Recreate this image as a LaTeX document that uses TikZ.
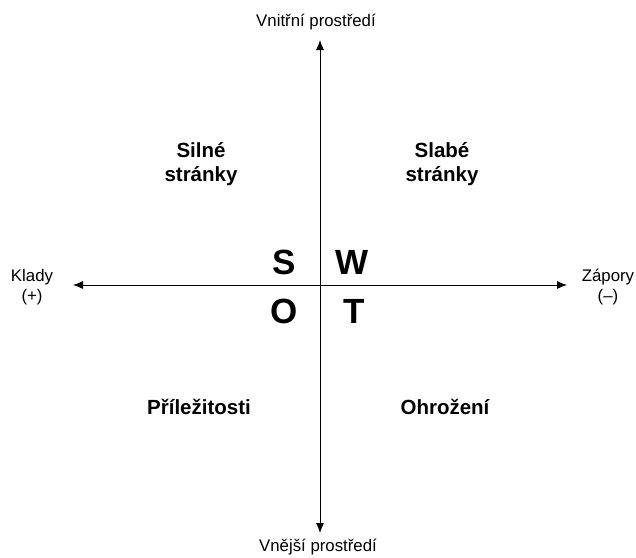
\documentclass[tikz,border=0pt]{standalone}
\usepackage{fontspec}
\setmainfont{Liberation Sans}
\usetikzlibrary{arrows.meta}

\tikzset{
  axis/.style={line width=0.9pt,{Latex[length=10pt,width=8pt]}-{Latex[length=10pt,width=8pt]}},
  axislabel/.style={font=\fontsize{16.8}{20}\selectfont,align=center,inner sep=0pt},
  quadlabel/.style={font=\fontsize{20.5}{24}\selectfont\bfseries,align=center,inner sep=0pt},
  swotletter/.style={font=\fontsize{35}{35}\selectfont\bfseries,inner sep=0pt}
}

\begin{document}
\begin{tikzpicture}[x=1pt,y=-1pt]
\useasboundingbox (0,0) rectangle (636,557);
% axes
\coordinate (top) at (320,40);
\coordinate (bottom) at (320,533);
\coordinate (left) at (73,285);
\coordinate (right) at (567,285);
\draw[axis] (bottom) -- (top);
\draw[axis] (left) -- (right);
% axis labels
\node[axislabel,anchor=base] (inner) at (316,26) {Vnitřní prostředí};
\node[axislabel,anchor=base] (outer) at (318,551) {Vnější prostředí};
\node[axislabel] (pros) at (32,287) {Klady\\(+)};
\node[axislabel] (cons) at (608,287) {Zápory\\(--)};
% SWOT
\node[swotletter] (s) at (284,262) {S};
\node[swotletter] (w) at (352,262) {W};
\node[swotletter] (o) at (284,311) {O};
\node[swotletter] (t) at (354,311) {T};
% quadrants
\node[quadlabel] (strengths) at (201,164) {Silné\\stránky};
\node[quadlabel] (weaknesses) at (442,164) {Slabé\\stránky};
\node[quadlabel] (opportunities) at (199,407) {Příležitosti};
\node[quadlabel] (threats) at (445,407) {Ohrožení};
\end{tikzpicture}
\end{document}
